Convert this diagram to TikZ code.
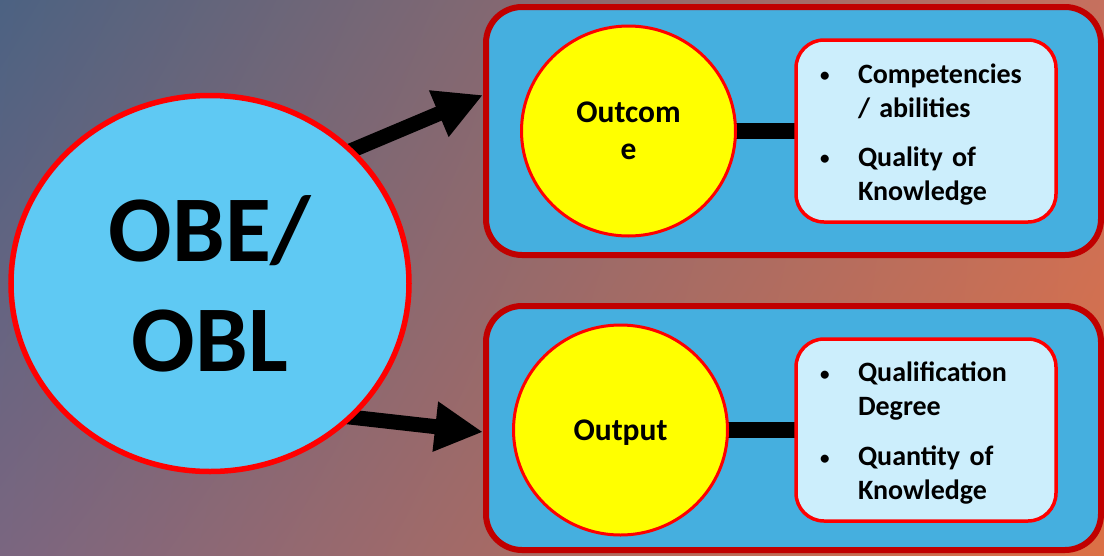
\documentclass[tikz,border=0pt]{standalone}
\usepackage{fontspec}
\setmainfont{Carlito}
\usepackage{xcolor}
\usepackage{tikz}
\usetikzlibrary{arrows.meta,shapes.geometric,shadings,positioning}
\definecolor{bgtl}{HTML}{4C6282}
\definecolor{bgtr}{HTML}{C6705E}
\definecolor{bgbl}{HTML}{7A6680}
\definecolor{bgbr}{HTML}{DC7045}
\definecolor{ring}{HTML}{FF0000}
\definecolor{sky}{HTML}{5FC9F3}
\definecolor{panelrim}{HTML}{C00000}
\definecolor{panelbg}{HTML}{45AFDF}
\definecolor{sun}{HTML}{FFFF00}
\definecolor{pale}{HTML}{CCEEFC}
\pgfdeclarelayer{back}
\pgfdeclarelayer{mid}
\pgfsetlayers{back,mid,main}
\newcommand{\dotmark}{\raisebox{1.5pt}{\fontsize{19}{19}\selectfont\textbullet}}
\newcommand{\lift}{\rule{0pt}{31.8pt}}
\tikzset{
  hub/.style={ellipse, draw=ring, fill=sky, line width=5.5pt, inner sep=0pt, minimum width=398pt, minimum height=376pt, align=center, font=\fontsize{94}{110}\selectfont\bfseries},
  panel/.style={draw=panelrim, fill=panelbg, line width=6pt, rounded corners=36pt, minimum width=615pt},
  core/.style={ellipse, draw=ring, fill=sun, line width=3pt, inner sep=0pt, minimum width=214pt, minimum height=210pt, align=center, font=\fontsize{31.5}{37}\selectfont\bfseries},
  items/.style={draw=ring, fill=pale, line width=3.5pt, rounded corners=28pt, inner xsep=24pt, inner ysep=0pt, text width=212pt, minimum height=182pt, align=left, font=\fontsize{28}{34}\selectfont\bfseries},
  bar/.style={line width=15.5pt},
  arr/.style={line width=15pt, -{Triangle[length=48pt,width=47pt]}, shorten <=-8pt},
}

\begin{document}
\begin{tikzpicture}[x=1pt,y=-1pt]
\useasboundingbox (0,0) rectangle (1104,555);
\begin{pgfonlayer}{back}
\shade[upper left=bgtl, upper right=bgtr, lower left=bgbl, lower right=bgbr] (0,0) rectangle (1104,555);
\node[panel, minimum height=248pt] (toppanel) at (793.5,131) {};
\node[panel, minimum height=244pt] (botpanel) at (793.5,428) {};
\end{pgfonlayer}
\node[hub] (obe) at (210,283.5) {OBE/\\OBL};
\node[core] (outcome) at (628.5,131) {Outcom\\e};
\node[core, text depth=0pt] (output) at (620.5,430) {Output};
\node[items] (topitems) at (926,131) {\begin{tabular}{@{}p{38pt}@{}l@{}}
  \lift\dotmark & Competencies\\ & / abilities\\[15pt]
  \dotmark & Quality of\\ & Knowledge
\end{tabular}};
\node[items] (botitems) at (926,430) {\begin{tabular}{@{}p{38pt}@{}l@{}}
  \lift\dotmark & Qualification\\ & Degree\\[16pt]
  \dotmark & Quantity of\\ & Knowledge
\end{tabular}};
\begin{pgfonlayer}{mid}
\draw[bar] (outcome.center) -- (topitems.center);
\draw[bar] (output.center) -- (botitems.center);
\draw[arr] (obe.43.6) -- ([yshift=36pt]toppanel.west);
\draw[arr] (obe.-43.5) -- ([yshift=-4pt]botpanel.west);
\end{pgfonlayer}
\end{tikzpicture}
\end{document}
